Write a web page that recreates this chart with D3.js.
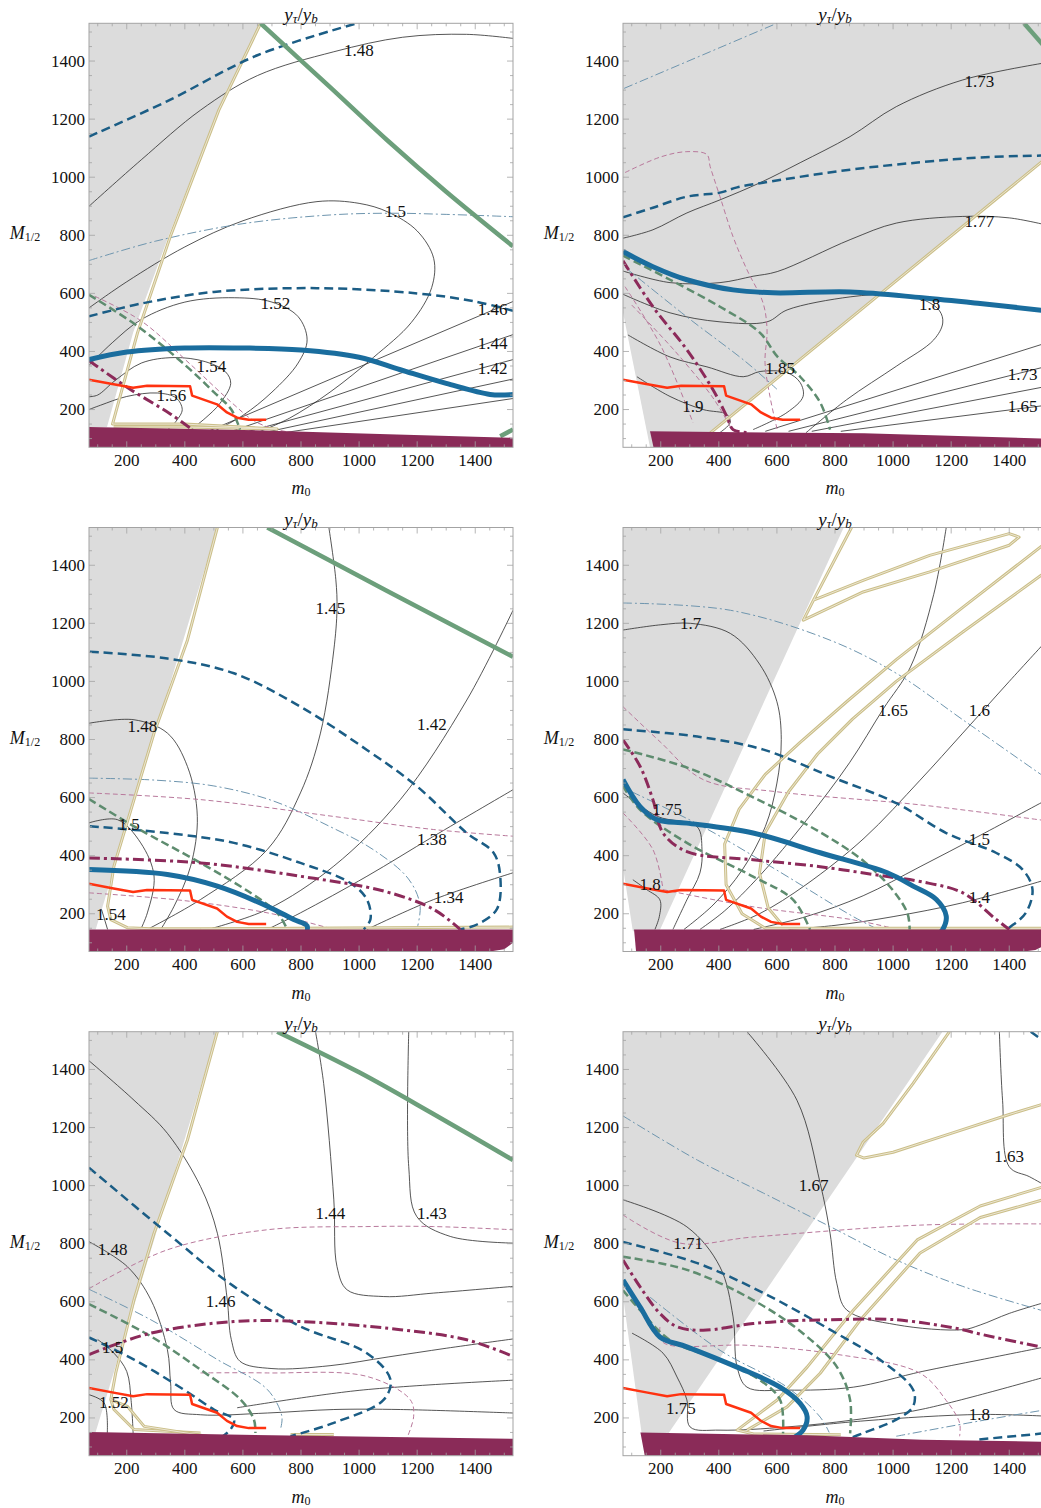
<!DOCTYPE html>
<html>
<head>
<meta charset="utf-8">
<script src="https://cdn.jsdelivr.net/npm/d3@7"></script>
<style>
  body { margin: 0; background: #fff; }
  svg { display: block; }
  text { font-family: "Liberation Serif", "Times New Roman", "DejaVu Serif", serif; fill: #111; }
</style>
</head>
<body>
<svg id="chart" width="1041" height="1508" font-family="Liberation Serif, Times New Roman, DejaVu Serif, serif"></svg>
<script>
'use strict';

// ---- axis data ----
var domainLo = 70, domainHi = 1530;
var majorTicks = [200, 400, 600, 800, 1000, 1200, 1400];
var minorTicks = d3.range(100, 1530, 50);

// red line is the same in every panel
var redLine = [[70,303],[150,288],[222,275],[270,282],[418,280],[425,248],[511,218],[545,190],[580,172],[620,165],[680,165]];

// ---- panel 1 (top left) ----
var p1Gray = [[70,140],[132,140],[222,465],[345,800],[515,1230],[658,1530],[70,1530]];
var p1Band = [[70,70],[70,140],[600,130],[1100,115],[1530,103],[1530,70]];
var p1Khaki = [[[661,1530],[517,1231],[351,799],[237,464],[151,150],[400,150],[718,133],[400,140],[155,140]]];
var p1Green = [[[661,1530],[900,1310],[1096,1128],[1300,950],[1530,762]], [[1486,108],[1530,131]]];
var p1BlueDash = [[[70,1140],[340,1262],[650,1420],[993,1530]],
  [[70,521],[250,565],[500,605],[855,618],[1200,600],[1400,572],[1530,540]]];
var p1Blue = [[[70,372],[200,398],[400,412],[600,412],[800,405],[1000,380],[1142,337],[1300,290],[1451,252],[1530,252]]];
var p1Maroon = [[[70,368],[210,271],[350,185],[425,131]]];
var p1GreenDash = [[[70,595],[239,486],[408,347],[500,260],[560,200],[590,131]]];
var p1Pink = [[[90,590],[250,505],[420,355],[560,225],[640,160],[720,130],[780,120]]];
var p1DashDot = [[[70,713],[300,780],[600,840],[900,870],[1100,876],[1300,872],[1530,864]]];
var p1Contours = [
  [[70,900],[250,1060],[454,1231],[650,1350],[913,1432],[1150,1482],[1370,1492],[1530,1478]],
  [[70,550],[200,640],[400,760],[600,850],[855,916],[1000,910],[1100,880],[1200,815],[1257,720],[1250,620],[1180,500],[1050,380],[900,260],[760,170],[660,125]],
  [[70,352],[150,430],[250,510],[400,570],[570,585],[700,570],[790,520],[821,440],[790,360],[700,260],[600,180],[500,125]],
  [[70,244],[100,250],[160,300],[250,360],[363,379],[470,365],[540,330],[558,290],[520,220],[470,170],[420,130]],
  [[70,200],[110,215],[200,245],[305,257],[370,240],[391,200],[370,160],[340,130]],
  [[480,125],[1530,572]], [[560,125],[1530,458]], [[620,125],[1530,372]],
  [[680,122],[1530,305]], [[740,120],[1530,238]]
];
var p1Labels = [["1.48",999,1438],["1.5",1125,882],["1.52",712,564],["1.54",491,349],["1.56",354,248],
  ["1.46",1460,544],["1.44",1460,429],["1.42",1460,343]];

// ---- panel 2 (top right) ----
var p2Gray = [[70,534],[163,70],[310,70],[1530,1068],[1530,1530],[70,1530]];
var p2Band = [[175,70],[163,125],[900,118],[1530,100],[1530,70]];
var p2Khaki = [[[310,70],[1530,1068]]];
var p2Green = [[[1451,1530],[1530,1440]]];
var p2BlueDash = [[[70,862],[173,895],[290,933],[404,947],[463,965],[552,981],[852,1026],[1100,1052],[1300,1068],[1530,1075]]];
var p2Blue = [[[70,744],[173,692],[290,647],[449,612],[587,602],[852,605],[1100,585],[1300,565],[1530,540]]];
var p2Maroon = [[[70,712],[173,554],[290,406],[380,268],[428,175],[449,131],[497,121]]];
var p2GreenDash = [[[70,730],[232,647],[404,554],[542,464],[601,383],[680,313],[749,224],[783,131]]];
var p2Pink = [
  [[77,1016],[200,1070],[290,1088],[359,1078],[370,1037],[404,933],[449,795],[497,681],[552,568],[566,475],[559,362],[576,245],[601,131]],
  [[77,623],[200,420],[311,155]],
  [[100,560],[250,400],[380,240],[440,140]]
];
var p2DashDot = [[[74,1306],[600,1530]], [[77,690],[290,519],[497,361],[600,270]]];
var p2Contours = [
  [[70,790],[173,819],[290,877],[404,922],[542,981],[680,1050],[852,1140],[1011,1243],[1240,1335],[1530,1395]],
  [[70,677],[232,637],[404,637],[518,659],[601,675],[852,785],[1011,842],[1240,865],[1400,860],[1530,835]],
  [[70,597],[232,533],[404,502],[566,502],[635,543],[852,588],[1000,596],[1100,580],[1160,540],[1171,498],[1140,440],[1011,349],[840,234],[700,120]],
  [[87,457],[232,381],[359,347],[484,313],[542,331],[635,327],[680,293],[690,245],[635,190],[518,131]],
  [[118,313],[232,245],[346,200],[428,183],[439,155],[404,121]],
  [[560,125],[1530,430]], [[640,125],[1530,349]], [[720,125],[1530,280]], [[820,125],[1530,215]]
];
var p2Labels = [["1.73",1297,1329],["1.77",1297,847],["1.8",1126,561],["1.85",611,340],["1.9",311,210],
  ["1.73",1446,320],["1.65",1446,211]];

// ---- panel 3 (middle left) ----
var p3Gray = [[70,146],[93,146],[512,1530],[70,1530]];
var p3Band = [[70,70],[70,146],[1530,146],[1530,100],[1500,78],[1450,70]];
var p3Khaki = [[[512,1530],[409,1142],[294,822],[225,593],[156,364],[134,226],[145,180],[202,152],[283,148],[454,148],[1530,154]]];
var p3Green = [[[684,1530],[1100,1310],[1530,1085]]];
var p3BlueDash = [
  [[73,1102],[340,1079],[569,1028],[798,913],[1027,764],[1199,639],[1371,478],[1463,410],[1486,329],[1474,215],[1406,163],[1348,146]],
  [[73,501],[340,478],[569,444],[798,375],[970,306],[1027,249],[1039,180],[1016,146]]
];
var p3Blue = [[[70,352],[340,335],[512,295],[684,226],[775,180],[821,158],[815,123]]];
var p3Maroon = [[[70,392],[454,375],[798,329],[1085,278],[1257,215],[1348,146]]];
var p3GreenDash = [[[70,595],[225,501],[454,375],[626,272],[718,203],[753,146]]];
var p3Pink = [[[70,616],[454,593],[913,535],[1257,490],[1530,467]], [[70,272],[400,245],[700,200],[913,146]]];
var p3DashDot = [[[70,667],[300,660],[500,640],[700,590],[900,500],[1050,420],[1170,320],[1210,230],[1200,150]]];
var p3Contours = [
  [[896,1530],[920,1350],[924,1250],[913,1108],[867,822],[798,616],[684,421],[454,249],[271,146]],
  [[1530,1245],[1371,936],[1142,593],[913,364],[684,215],[480,146]],
  [[1530,627],[1257,467],[1027,329],[798,203],[684,146]],
  [[1530,341],[1257,249],[1027,146]],
  [[70,856],[225,868],[340,822],[409,707],[443,535],[420,364],[363,226],[317,146]],
  [[70,513],[168,524],[248,444],[294,330],[271,203],[248,146]],
  [[113,215],[134,146]]
];
var p3Labels = [["1.45",901,1251],["1.42",1251,851],["1.38",1251,455],["1.34",1308,255],["1.48",254,845],["1.5",208,507],["1.54",145,198]];

// ---- panel 4 (middle right) ----
var p4Gray = [[70,1530],[830,1530],[195,140],[104,140],[70,360]];
var p4Band = [[115,70],[108,146],[1530,146],[1530,95],[1490,75],[1450,70]];
var p4Khaki = [
  [[857,1530],[726,1280],[691,1211],[897,1308],[1126,1377],[1400,1469],[1434,1497],[1400,1509],[1126,1434],[897,1348],[726,1280]],
  [[1530,1480],[1240,1255],[1011,1075],[840,930],[680,790],[560,680],[470,560],[420,440],[425,300],[480,200],[560,150],[1530,150]],
  [[1530,1380],[1240,1170],[1011,1000],[860,870],[740,750],[640,620],[560,480],[540,340],[570,220],[620,160]]
];
var p4Green = [];
var p4BlueDash = [[[70,835],[326,810],[554,765],[783,673],[1011,581],[1183,478],[1354,410],[1446,352],[1480,284],[1457,203],[1400,152],[1377,135]]];
var p4Blue = [[[70,662],[129,569],[187,524],[290,512],[518,478],[749,410],[980,341],[1069,295],[1149,249],[1183,192],[1171,146],[1137,112]]];
var p4Maroon = [[[70,799],[129,707],[173,593],[208,478],[290,414],[518,386],[749,362],[980,328],[1093,311],[1240,272],[1354,181],[1400,146]]];
var p4GreenDash = [
  [[70,766],[300,700],[520,600],[750,480],[900,380],[1000,280],[1050,200],[1057,146]],
  [[70,640],[129,558],[290,444],[518,328],[656,248],[714,145]]
];
var p4Pink = [
  [[70,913],[200,790],[346,662],[600,620],[1093,575],[1530,520]],
  [[70,547],[173,421],[208,283]],
  [[208,283],[518,224],[863,179],[1000,150]]
];
var p4DashDot = [[[70,1270],[440,1245],[783,1142],[1011,1028],[1240,868],[1530,665]], [[100,620],[346,499],[600,350],[863,190],[950,145]]];
var p4Contours = [
  [[70,1177],[200,1195],[303,1200],[440,1165],[540,1060],[600,930],[615,800],[600,650],[560,500],[480,350],[380,230],[280,146]],
  [[1183,1530],[1140,1300],[1060,1050],[966,905],[850,720],[700,520],[540,330],[420,210],[335,146]],
  [[1530,1142],[1400,1000],[1240,822],[1093,660],[900,460],[700,300],[540,200],[404,146]],
  [[1530,593],[1300,470],[1093,362],[897,262],[700,190],[520,146]],
  [[1530,318],[1240,238],[1000,190],[800,160],[640,146]],
  [[70,616],[189,535],[325,500],[342,421],[335,341],[290,248],[242,146]],
  [[104,317],[152,283],[197,248],[195,190],[180,146]]
];
var p4Labels = [["1.7",303,1200],["1.65",1000,899],["1.6",1297,899],["1.5",1297,455],["1.4",1297,255],["1.75",222,559],["1.8",163,300]];

// ---- panel 5 (bottom left) ----
var p5Gray = [[70,152],[93,152],[512,1530],[70,1530]];
var p5Band = [[70,70],[70,152],[700,140],[1530,128],[1530,70]];
var p5Khaki = [
  [[512,1530],[409,1157],[294,836],[225,607],[162,355],[145,263],[156,229],[225,160],[454,148]],
  [[145,263],[202,240],[260,171],[477,137]],
  [[764,143],[913,143]]
];
var p5Green = [[[718,1530],[1000,1390],[1250,1250],[1530,1088]]];
var p5BlueDash = [
  [[70,1062],[340,836],[569,653],[798,515],[1027,423],[1108,332],[1085,263],[913,183],[764,137]],
  [[70,477],[225,401],[397,297],[500,229],[569,194],[557,160],[523,131]]
];
var p5Blue = [];
var p5Maroon = [[[70,418],[283,492],[569,532],[798,532],[1142,504],[1371,469],[1530,412]]];
var p5GreenDash = [[[70,592],[283,481],[454,366],[592,263],[638,194],[643,148]]];
var p5Pink = [[[70,645],[340,779],[684,848],[1027,859],[1257,859],[1530,848]],
  [[454,355],[684,355],[1027,343],[1176,263],[1188,206],[1165,131]]];
var p5DashDot = [[[70,643],[283,538],[512,401],[684,298],[734,206],[729,160]]];
var p5Contours = [
  [[70,1430],[225,1294],[340,1180],[454,997],[512,836],[546,607],[560,470],[590,395],[700,370],[900,380],[1100,410],[1300,440],[1530,472]],
  [[70,807],[202,721],[283,607],[340,435],[351,320],[363,229],[454,211],[684,217],[913,229],[1142,229],[1530,217]],
  [[850,1530],[878,1352],[913,951],[924,721],[959,641],[1085,618],[1257,630],[1530,653]],
  [[1171,1530],[1171,1065],[1199,893],[1314,825],[1530,802]],
  [[100,470],[156,423],[200,360],[215,260],[222,146]],
  [[70,280],[122,252],[133,148]],
  [[580,235],[1000,295],[1530,330]]
];
var p5Labels = [["1.48",151,779],["1.46",523,601],["1.44",901,905],["1.43",1251,905],["1.5",151,441],["1.52",156,252]];

// ---- panel 6 (bottom right) ----
var p6Gray = [[70,1530],[1170,1530],[222,140],[135,140],[70,620]];
var p6Band = [[145,70],[130,150],[700,140],[1100,125],[1530,118],[1530,70]];
var p6Khaki = [
  [[1194,1530],[1069,1352],[966,1214],[897,1150],[874,1105],[900,1095],[1000,1115],[1200,1180],[1400,1245],[1530,1285]],
  [[1530,1000],[1300,930],[1083,813],[863,571],[704,375],[601,262],[463,158],[520,145],[820,142]],
  [[1530,955],[1300,890],[1093,768],[887,537],[749,354],[635,238],[497,158]]
];
var p6Green = [];
var p6BlueDash = [
  [[70,806],[326,733],[554,630],[783,504],[954,401],[1069,297],[1069,240],[1011,194],[897,148],[840,126]],
  [[1474,1530],[1530,1490]],
  [[1297,126],[1530,148]]
];
var p6Blue = [[[70,675],[129,582],[197,479],[290,445],[463,375],[611,306],[680,250],[704,204],[690,158],[645,124]]];
var p6Maroon = [[[70,744],[129,651],[197,560],[256,514],[346,502],[518,525],[690,536],[783,538],[1011,538],[1240,504],[1286,492],[1530,440]]];
var p6GreenDash = [
  [[70,755],[290,710],[518,606],[690,491],[807,375],[852,262],[852,147]],
  [[70,640],[129,571],[232,468],[404,399],[542,330],[611,262],[621,147]]
];
var p6Pink = [[[70,899],[266,802],[518,823],[1093,864],[1530,868]],
  [[197,513],[208,460],[500,450],[800,420],[1093,354],[1183,260],[1229,183],[1229,137]]];
var p6DashDot = [[[70,1240],[326,1088],[554,974],[783,859],[1011,744],[1240,653],[1530,565]],
  [[163,616],[404,433],[635,306],[749,203],[780,150]],
  [[1011,137],[1300,190],[1530,229]]];
var p6Contours = [
  [[497,1530],[669,1294],[749,1008],[783,836],[806,664],[840,572],[1011,521],[1240,504],[1300,520],[1400,560],[1530,600]],
  [[70,951],[290,858],[404,720],[449,548],[463,375],[497,306],[635,296],[863,306],[1100,360],[1300,400],[1530,446]],
  [[101,492],[208,423],[256,341],[290,262],[301,169],[404,158],[635,169],[863,193],[1100,230],[1530,343]],
  [[554,155],[900,190],[1300,212],[1530,206]],
  [[1366,1530],[1377,1294],[1400,1065],[1469,1031],[1530,997]]
];
var p6Labels = [["1.67",726,1002],["1.71",294,802],["1.63",1400,1100],["1.75",269,234],["1.8",1297,211]];

// ---- assemble ----
var panels = [
  {gray:p1Gray, band:p1Band, khaki:p1Khaki, green:p1Green, blueDash:p1BlueDash, blue:p1Blue, maroon:p1Maroon, greenDash:p1GreenDash, pink:p1Pink, dashDot:p1DashDot, contour:p1Contours, labels:p1Labels},
  {gray:p2Gray, band:p2Band, khaki:p2Khaki, green:p2Green, blueDash:p2BlueDash, blue:p2Blue, maroon:p2Maroon, greenDash:p2GreenDash, pink:p2Pink, dashDot:p2DashDot, contour:p2Contours, labels:p2Labels},
  {gray:p3Gray, band:p3Band, khaki:p3Khaki, green:p3Green, blueDash:p3BlueDash, blue:p3Blue, maroon:p3Maroon, greenDash:p3GreenDash, pink:p3Pink, dashDot:p3DashDot, contour:p3Contours, labels:p3Labels},
  {gray:p4Gray, band:p4Band, khaki:p4Khaki, green:p4Green, blueDash:p4BlueDash, blue:p4Blue, maroon:p4Maroon, greenDash:p4GreenDash, pink:p4Pink, dashDot:p4DashDot, contour:p4Contours, labels:p4Labels},
  {gray:p5Gray, band:p5Band, khaki:p5Khaki, green:p5Green, blueDash:p5BlueDash, blue:p5Blue, maroon:p5Maroon, greenDash:p5GreenDash, pink:p5Pink, dashDot:p5DashDot, contour:p5Contours, labels:p5Labels},
  {gray:p6Gray, band:p6Band, khaki:p6Khaki, green:p6Green, blueDash:p6BlueDash, blue:p6Blue, maroon:p6Maroon, greenDash:p6GreenDash, pink:p6Pink, dashDot:p6DashDot, contour:p6Contours, labels:p6Labels}
];

// drawing order, back to front
var layers = [
  {key:'contour',   stroke:'#2b2b2b', width:0.8},
  {key:'pink',      stroke:'#b8789b', width:1,   dash:'5,3'},
  {key:'dashDot',   stroke:'#6e95ae', width:1,   dash:'9,3,2,3'},
  {key:'khaki',     stroke:'#cbbf89', width:3},
  {key:'greenDash', stroke:'#5e8c6f', width:2.5, dash:'8,4'},
  {key:'blueDash',  stroke:'#1b5d85', width:2.5, dash:'9,5'},
  {key:'maroon',    stroke:'#8c2a5a', width:3,   dash:'11,4,3,4'},
  {key:'green',     stroke:'#6c9f7b', width:4.5},
  {key:'blue',      stroke:'#1a6d9e', width:5}
];

var svg = d3.select('#chart');
var size = 424;

panels.forEach(function (p, i) {
  var left = (i % 2) ? 623 : 89;
  var top = 23.3 + Math.floor(i / 2) * 504.2;
  var x = d3.scaleLinear().domain([domainLo, domainHi]).range([0, size]);
  var y = d3.scaleLinear().domain([domainLo, domainHi]).range([size, 0]);
  var g = svg.append('g').attr('transform', 'translate(' + left + ',' + top + ')');

  g.append('clipPath').attr('id', 'clip' + i)
    .append('rect').attr('width', size).attr('height', size);
  var plot = g.append('g').attr('clip-path', 'url(#clip' + i + ')');

  var area = d3.line().x(function (d) { return x(d[0]); }).y(function (d) { return y(d[1]); });
  var smooth = d3.line().x(function (d) { return x(d[0]); }).y(function (d) { return y(d[1]); })
    .curve(d3.curveCatmullRom.alpha(0.5));

  plot.append('path').attr('d', area(p.gray) + 'Z').attr('fill', '#dcdcdc');

  layers.forEach(function (l) {
    p[l.key].forEach(function (pts) {
      var path = plot.append('path')
        .attr('d', (l.key === 'khaki' ? area : smooth)(pts))
        .attr('fill', 'none')
        .attr('stroke', l.stroke)
        .attr('stroke-width', l.width)
        .attr('stroke-linejoin', 'round');
      if (l.dash) path.attr('stroke-dasharray', l.dash);
      if (l.key === 'khaki') {
        plot.append('path').attr('d', area(pts)).attr('fill', 'none')
          .attr('stroke', '#efeadb').attr('stroke-width', 0.9);
      }
    });
  });

  plot.append('path').attr('d', area(redLine)).attr('fill', 'none')
    .attr('stroke', '#ff3210').attr('stroke-width', 2.5).attr('stroke-linejoin', 'round');

  plot.append('path').attr('d', area(p.band) + 'Z').attr('fill', '#8a2b58');

  p.labels.forEach(function (lb) {
    plot.append('text').attr('x', x(lb[1])).attr('y', y(lb[2]))
      .attr('text-anchor', 'middle').attr('dominant-baseline', 'central')
      .attr('font-size', 17).text(lb[0]);
  });

  // frame and ticks
  g.append('rect').attr('width', size).attr('height', size)
    .attr('fill', 'none').attr('stroke', '#a3a3a3').attr('stroke-width', 1);
  var tk = g.append('g').attr('stroke', '#a3a3a3').attr('stroke-width', 0.8);
  minorTicks.forEach(function (v) {
    var len = majorTicks.indexOf(v) >= 0 ? 6 : 3;
    tk.append('line').attr('x1', x(v)).attr('x2', x(v)).attr('y1', size).attr('y2', size - len);
    tk.append('line').attr('x1', x(v)).attr('x2', x(v)).attr('y1', 0).attr('y2', len);
    tk.append('line').attr('y1', y(v)).attr('y2', y(v)).attr('x1', 0).attr('x2', len);
    tk.append('line').attr('y1', y(v)).attr('y2', y(v)).attr('x1', size).attr('x2', size - len);
  });
  majorTicks.forEach(function (v) {
    g.append('text').attr('x', x(v)).attr('y', size + 13).attr('text-anchor', 'middle')
      .attr('dominant-baseline', 'central').attr('font-size', 17).text(v);
    g.append('text').attr('x', -4).attr('y', y(v)).attr('text-anchor', 'end')
      .attr('dominant-baseline', 'central').attr('font-size', 17).text(v);
  });

  // axis titles
  var mx = g.append('text').attr('x', size / 2).attr('y', size + 41).attr('text-anchor', 'middle')
    .attr('dominant-baseline', 'central').attr('font-size', 18);
  mx.append('tspan').attr('font-style', 'italic').text('m');
  mx.append('tspan').attr('font-size', 12).attr('dy', 4).text('0');

  var my = g.append('text').attr('x', -64).attr('y', size / 2 - 2).attr('text-anchor', 'middle')
    .attr('dominant-baseline', 'central').attr('font-size', 18);
  my.append('tspan').attr('font-style', 'italic').text('M');
  my.append('tspan').attr('font-size', 12).attr('dy', 4).text('1/2');

  var tt = g.append('text').attr('x', size / 2).attr('y', -9).attr('text-anchor', 'middle')
    .attr('dominant-baseline', 'central').attr('font-size', 19);
  tt.append('tspan').attr('font-style', 'italic').text('y');
  tt.append('tspan').attr('font-style', 'italic').attr('font-size', 13).attr('dy', 4).text('τ');
  tt.append('tspan').attr('dy', -4).text('/');
  tt.append('tspan').attr('font-style', 'italic').text('y');
  tt.append('tspan').attr('font-style', 'italic').attr('font-size', 13).attr('dy', 4).text('b');
});
</script>
</body>
</html>
